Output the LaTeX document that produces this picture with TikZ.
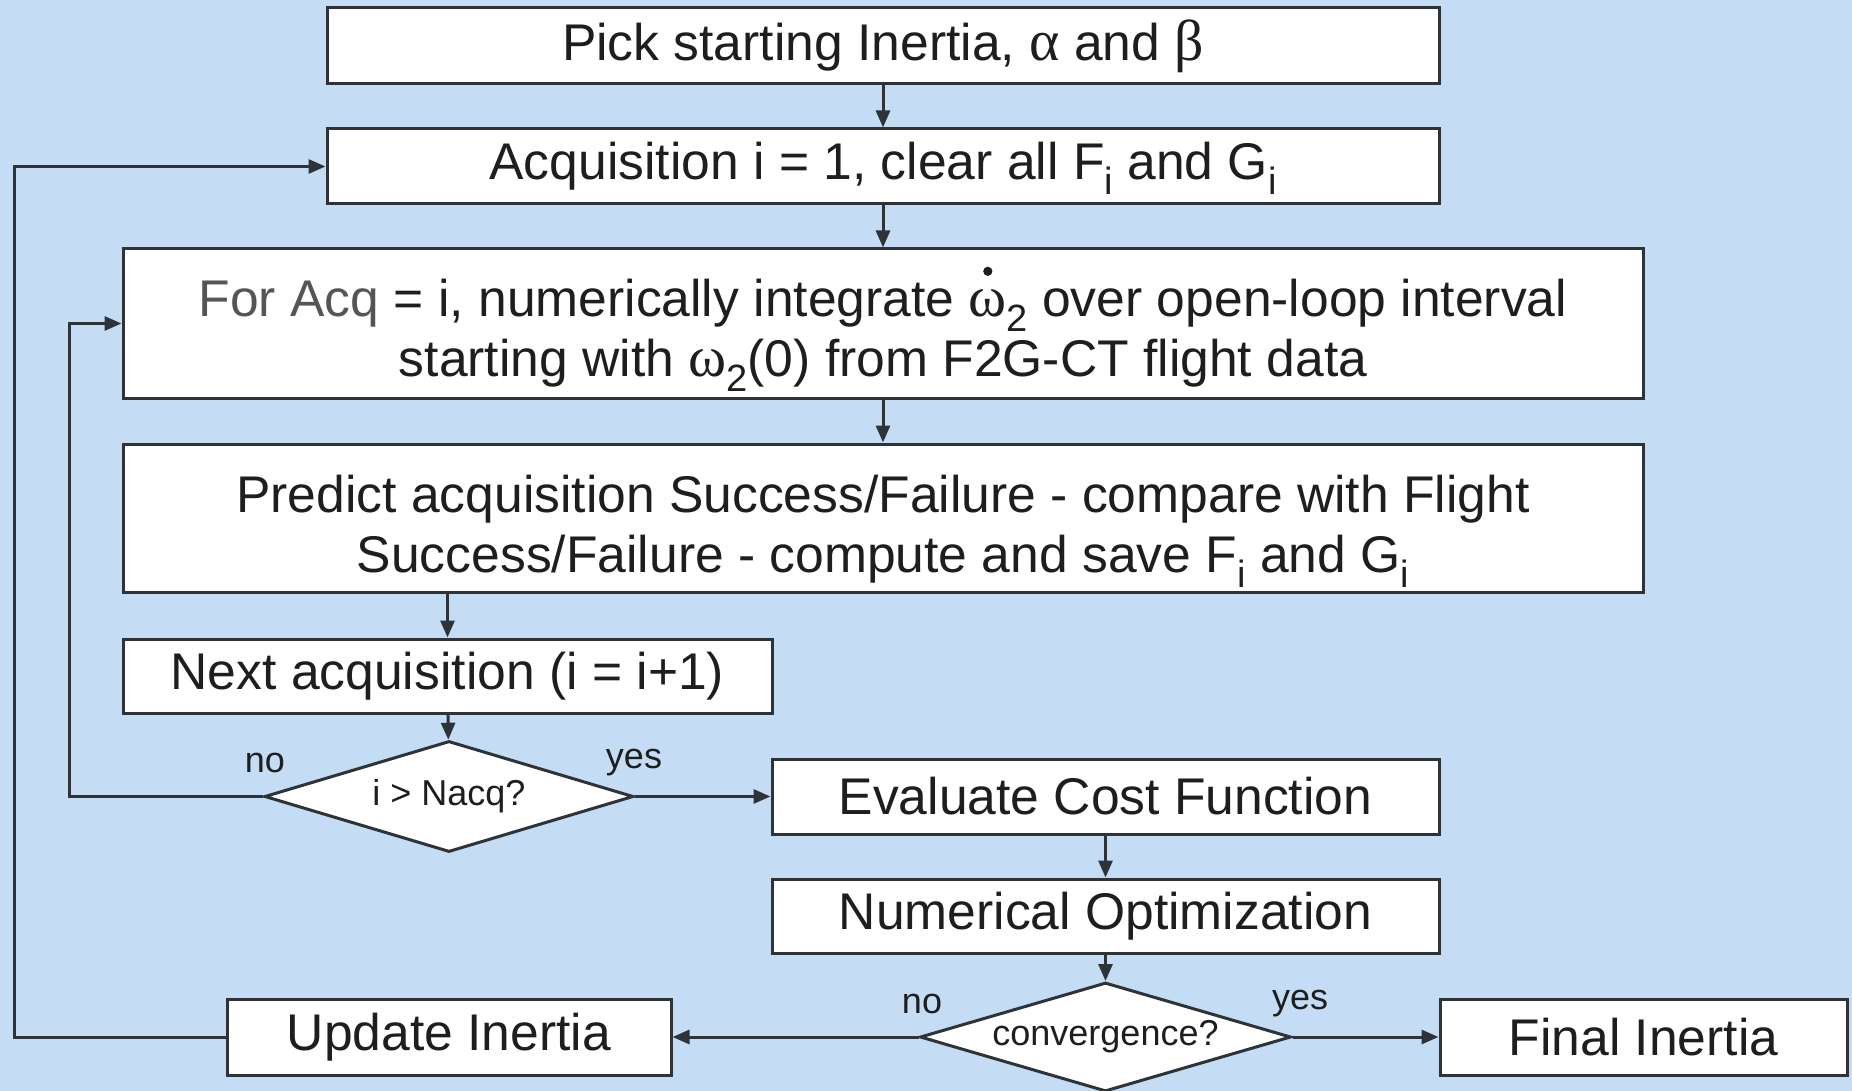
\documentclass[tikz,border=0pt]{standalone}
\usepackage{fontspec}
\setmainfont{Liberation Sans}
\newfontfamily\grk[Scale=1.12]{Liberation Serif}
\usetikzlibrary{shapes.geometric,arrows.meta}
\definecolor{bg}{HTML}{C4DDF5}
\definecolor{ln}{HTML}{2E3338}
\definecolor{tx}{HTML}{1E1E1E}
\definecolor{tx2}{HTML}{555555}
\newcommand{\sbs}[1]{\smash{\raisebox{-0.55ex}{\fontsize{19}{19}\selectfont #1}}}
\newcommand{\wdot}{{\setbox0\hbox{\grk ω}\rlap{\hbox to \wd0{\hss\smash{\raisebox{0.78em}{\tikz\fill[tx] (0,0) circle (2.3pt);}}\hss}}\box0}}
\begin{document}
\begin{tikzpicture}[x=0.5pt,y=-0.5pt,
  box/.style={draw=ln, line width=1.5pt, fill=white, rectangle, inner sep=0pt, text=tx,
    font=\fontsize{25.8}{30}\selectfont, align=center},
  dia/.style={draw=ln, line width=1.5pt, fill=white, diamond, aspect=3.4, inner sep=0pt, text=tx,
    font=\fontsize{18}{21}\selectfont},
  arr/.style={draw=ln, line width=1.5pt, -{Triangle[length=8.5pt,width=7pt]}},
  lbl/.style={text=tx, font=\fontsize{18}{21}\selectfont}]
\fill[bg] (0,0) rectangle (1852,1091);
\useasboundingbox (0,0) rectangle (1852,1091);

\node[box, minimum width=556pt, minimum height=38pt] (b1) at (883,46) {Pick starting Inertia, {\grk α} and {\grk β}};
\node[box, minimum width=556pt, minimum height=37.5pt] (b2) at (883,166.5) {Acquisition i = 1, clear all F\sbs{i} and G\sbs{i}};
\node[box, minimum width=760pt, minimum height=74.5pt] (b3) at (883,323.5) {\rule{0pt}{28pt}\textcolor{tx2}{For Acq} = i, numerically integrate \wdot\sbs{2} over open-loop interval\\starting with {\grk ω}\sbs{2}(0) from F2G-CT flight data};
\node[box, minimum width=760pt, minimum height=74pt] (b4) at (883,518) {\rule{0pt}{29.5pt}Predict acquisition Success/Failure - compare with Flight\\Success/Failure - compute and save F\sbs{i} and G\sbs{i}};
\node[box, minimum width=324.5pt, minimum height=37pt] (b5) at (447.5,676) {Next acquisition (i = i+1)};
\node[dia, minimum width=184.5pt, minimum height=55.5pt] (d1) at (449,796.5) {i > Nacq?};
\node[box, minimum width=333.5pt, minimum height=37.5pt] (b6) at (1105.5,796.5) {Evaluate Cost Function};
\node[box, minimum width=333.5pt, minimum height=37pt] (b7) at (1105.5,916) {Numerical Optimization};
\node[dia, minimum width=185.5pt, minimum height=54.5pt] (d2) at (1105.5,1037) {convergence?};
\node[box, minimum width=222pt, minimum height=38pt] (b8) at (449,1037) {Update Inertia};
\node[box, minimum width=203.5pt, minimum height=38pt] (b9) at (1643.5,1037) {Final Inertia};

\coordinate (c1) at (69,796.5);
\coordinate (c2) at (14,1037);

\draw[arr] (b1) -- (b2);
\draw[arr] (b2) -- (b3);
\draw[arr] (b3) -- (b4);
\draw[arr] (b4.south -| b5) -- (b5);
\draw[arr] (b5) -- (d1);
\draw[arr] (d1.west) -- (c1) |- (b3.west);
\draw[arr] (d1.east) -- (b6.west);
\draw[arr] (b6) -- (b7);
\draw[arr] (b7) -- (d2);
\draw[arr] (d2.west) -- (b8.east);
\draw[arr] (d2.east) -- (b9.west);
\draw[arr] (b8.west) -- (c2) |- (b2.west);

\node[lbl] (l1) at (265,763) {no};
\node[lbl] (l2) at (634,763) {yes};
\node[lbl] (l3) at (922,1004) {no};
\node[lbl] (l4) at (1300,1004) {yes};
\end{tikzpicture}
\end{document}
